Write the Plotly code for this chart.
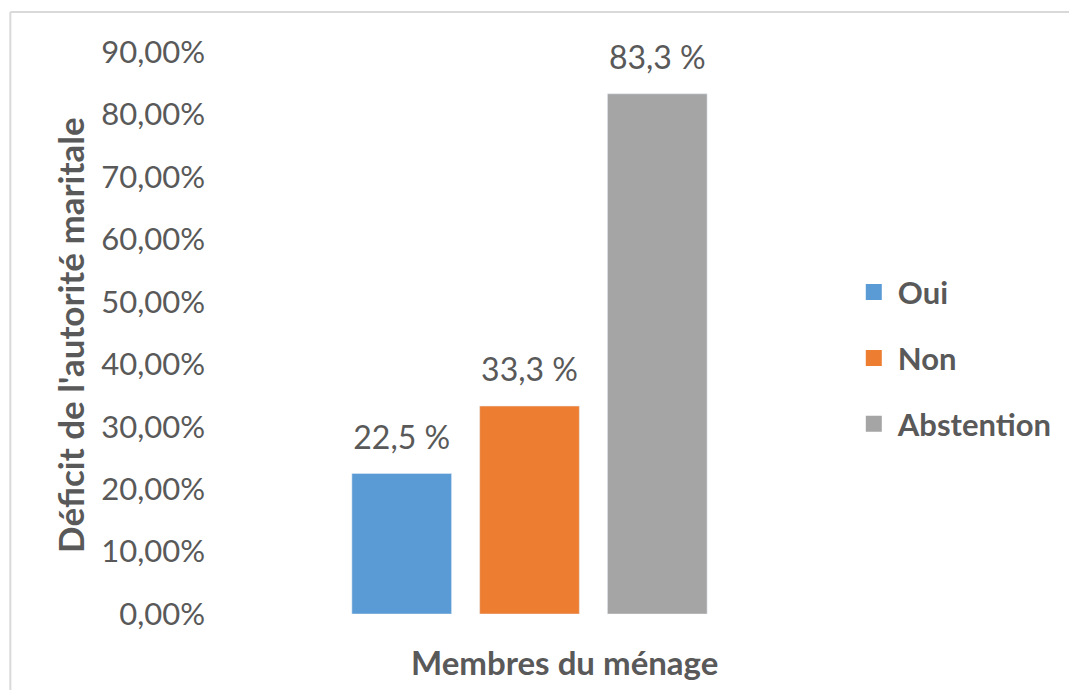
import plotly.graph_objects as go

categories = [""]
series_names = ["Oui", "Non", "Abstention"]
series_values = [22.5, 33.3, 83.3]
series_colors = ["#5B9BD5", "#ED7D31", "#A5A5A5"]
tick_vals = [0, 10, 20, 30, 40, 50, 60, 70, 80, 90]
tick_text = ["0,00%", "10,00%", "20,00%", "30,00%", "40,00%", "50,00%",
             "60,00%", "70,00%", "80,00%", "90,00%"]
x_title = "Membres du ménage"
y_title = "Déficit de l'autorité maritale"

TXT = "#595959"
FONT = "Lato"
BORDER = dict(color="#D9D9D9", width=2)

fig = go.Figure()
for name, val, col in zip(series_names, series_values, series_colors):
    label = f"{val:.1f}".replace(".", ",") + " %"
    fig.add_trace(go.Bar(
        x=categories, y=[val], name=name, marker_color=col,
        offsetgroup=name, showlegend=False, hoverinfo="skip",
    ))
    # data label, positioned above the bar via an invisible marker
    fig.add_trace(go.Scatter(
        x=categories, y=[val], mode="markers+text", text=[label],
        textposition="top center", offsetgroup=name, cliponaxis=False,
        textfont=dict(family=FONT, size=32, color=TXT),
        marker=dict(size=25, opacity=0, color=col),
        showlegend=False, hoverinfo="skip",
    ))
    fig.add_trace(go.Scatter(
        x=[None], y=[None], mode="markers", name=name, offsetgroup=name,
        legendgroup=name,
        marker=dict(symbol="square", size=20, color=col),
    ))

fig.update_layout(
    width=1061, height=682,
    margin=dict(l=222, r=239, t=44, b=76),
    paper_bgcolor="white", plot_bgcolor="white",
    barmode="group", bargap=0.36, bargroupgap=0.22,
    scattermode="group", scattergap=0.36,
    font=dict(family=FONT, color=TXT),
    showlegend=True,
    legend=dict(
        x=1.033, y=0.4556, xanchor="left", yanchor="middle",
        font=dict(family=FONT, size=31, color=TXT, weight="bold"),
        traceorder="grouped", tracegroupgap=22.5,
        itemwidth=38,
    ),
    xaxis=dict(showticklabels=False, showgrid=False, zeroline=False,
               showline=False, ticks=""),
    yaxis=dict(range=[0, 90], tickvals=tick_vals, ticktext=tick_text,
               showgrid=False, zeroline=False, showline=False,
               tickfont=dict(family=FONT, size=31, color=TXT), ticklen=0,
               ticklabelstandoff=24),
    annotations=[
        dict(text=x_title, xref="paper", yref="paper", x=0.558, y=-0.085,
             showarrow=False, xanchor="center", yanchor="middle",
             font=dict(family=FONT, size=33, color=TXT, weight="bold")),
        dict(text=y_title, xref="paper", yref="paper", x=-0.267, y=0.495,
             showarrow=False, textangle=-90, xanchor="center", yanchor="middle",
             font=dict(family=FONT, size=35, color=TXT, weight="bold")),
    ],
    shapes=[
        dict(type="line", xref="paper", yref="paper",
             x0=-0.3667, y0=1.0712, x1=1.5, y1=1.0712, line=BORDER,
             layer="below"),
        dict(type="line", xref="paper", yref="paper",
             x0=-0.3667, y0=-0.3, x1=-0.3667, y1=1.0712, line=BORDER,
             layer="below"),
    ],
)

fig.write_html("out.html")
